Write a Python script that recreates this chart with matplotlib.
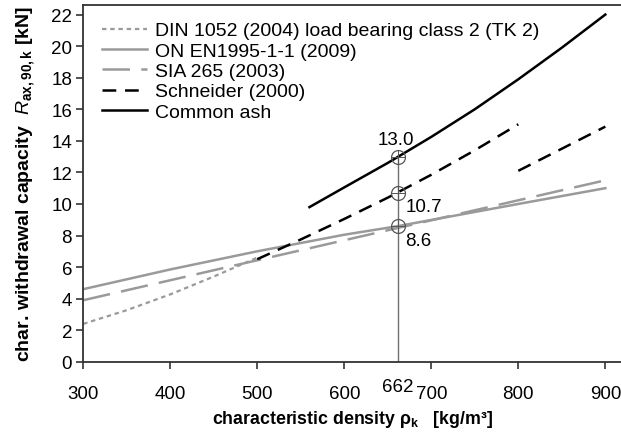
import matplotlib
matplotlib.use("Agg")
import matplotlib.pyplot as plt
import numpy as np

plt.rcParams['font.family'] = ['Liberation Sans', 'DejaVu Sans']
plt.rcParams['mathtext.fontset'] = 'custom'
plt.rcParams['mathtext.rm'] = 'Liberation Sans'
plt.rcParams['mathtext.it'] = 'Liberation Sans:italic'
plt.rcParams['mathtext.bf'] = 'Liberation Sans:bold'

# Data (density in kg/m^3, capacity in kN)
din_x = [300, 350, 400, 450, 500]
din_y = [2.4, 3.27, 4.27, 5.4, 6.6]

en_x = [300, 400, 500, 600, 662, 800, 900]
en_y = [4.6, 5.85, 7.0, 8.05, 8.6, 10.0, 11.0]

sia_x = [300, 900]
sia_y = [3.9, 11.5]

schn1_x = [500, 550, 600, 650, 700, 750, 800]
schn1_y = [6.5, 7.75, 9.05, 10.4, 11.85, 13.4, 15.05]
schn2_x = [800, 900]
schn2_y = [12.1, 14.9]

ash_x = [560, 600, 650, 700, 750, 800, 850, 900]
ash_y = [9.8, 11.05, 12.6, 14.25, 16.0, 17.9, 19.9, 22.0]

mark_x = 662
mark_vals = [13.0, 10.7, 8.6]
mark_labels = ["13.0", "10.7", "8.6"]

x_ticks = [300, 400, 500, 600, 700, 800, 900]
y_ticks = list(range(0, 23, 2))

fig = plt.figure(figsize=(6.21, 4.35), dpi=100)
ax = fig.add_axes([0.134, 0.166, 0.866, 0.820])

gray = '#9a9a9a'
ax.plot(din_x, din_y, color=gray, lw=1.6, ls=(0, (2, 1.7)),
        label='DIN 1052 (2004) load bearing class 2 (TK 2)')
ax.plot(en_x, en_y, color=gray, lw=1.8, ls='-', label='ON EN1995-1-1 (2009)')
ax.plot(sia_x, sia_y, color=gray, lw=1.8, ls=(0, (11, 4.5)), label='SIA 265 (2003)')
ax.plot(schn1_x, schn1_y, color='black', lw=1.8, ls=(0, (5.5, 3.5)), label='Schneider (2000)')
ax.plot(schn2_x, schn2_y, color='black', lw=1.8, ls=(0, (5.5, 3.5)))
ax.plot(ash_x, ash_y, color='black', lw=1.8, ls='-', label='Common ash')

ax.plot([mark_x, mark_x], [0, mark_vals[0]], color='#707070', lw=1.0, zorder=1)
ax.plot([mark_x] * 3, mark_vals, ls='none', marker='o', ms=10, mfc='none',
        mec='#555555', mew=0.9)
ax.plot([mark_x] * 3, mark_vals, ls='none', marker='+', ms=10, mec='#555555', mew=0.7)

ax.text(mark_x - 3, mark_vals[0] + 0.55, mark_labels[0], fontsize=13.5, ha='center', va='bottom')
ax.text(mark_x + 8, mark_vals[1] - 0.35, mark_labels[1], fontsize=13.5, ha='left', va='top')
ax.text(mark_x + 8, mark_vals[2] - 0.35, mark_labels[2], fontsize=13.5, ha='left', va='top')

ax.set_xlim(300, 918)
ax.set_ylim(0, 22.6)
ax.set_xticks(x_ticks)
ax.set_yticks(y_ticks)
ax.tick_params(direction='out', length=5, width=1.2, labelsize=13.5, colors='#333333',
               labelcolor='black')
ax.tick_params(axis='x', pad=12)
ax.tick_params(axis='y', pad=3)
ax.text(mark_x, -1.0, '662', fontsize=13.5, ha='center', va='top',
        transform=ax.transData)

for s in ['left', 'bottom', 'top']:
    ax.spines[s].set_linewidth(1.3)
    ax.spines[s].set_color('#333333')
ax.spines['right'].set_visible(False)

ax.set_xlabel('characteristic density ρ$_\\mathbf{k}$   [kg/m³]', fontsize=12.8,
              fontweight='bold', labelpad=4)
ax.set_ylabel(r'char. withdrawal capacity  $R_{\mathbf{ax,90,k}}$ [kN]', fontsize=14,
              fontweight='bold', labelpad=10)

leg = ax.legend(loc='upper left', frameon=False, fontsize=14, handlelength=2.35,
                handletextpad=0.4, labelspacing=0.14, borderaxespad=0.0,
                bbox_to_anchor=(0.02, 0.975))

fig.savefig('out.png', dpi=100)
